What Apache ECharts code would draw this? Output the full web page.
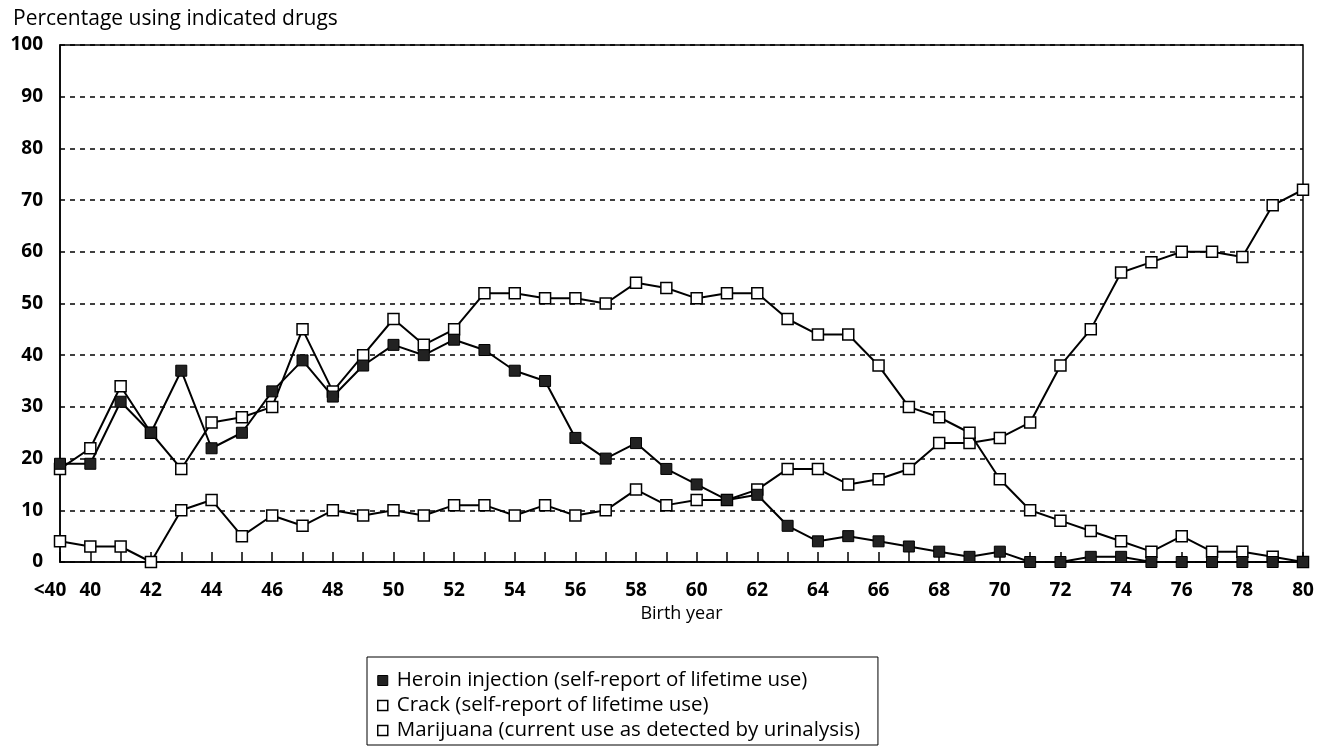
<!DOCTYPE html>
<html lang="en">
<head>
    <meta charset="UTF-8">
    <title>Drug use by birth year</title>
    <script type="text/javascript" src="https://cdn.jsdelivr.net/npm/echarts@6/dist/echarts.min.js"></script>
</head>
<body style="margin:0;background:#fff;">
<div id="myChart" style="width:1324px;height:750px;"></div>
<script type="text/javascript">
    // 出生年份（横轴）
    var years = ['<40', '40', '41', '42', '43', '44', '45', '46', '47', '48', '49',
        '50', '51', '52', '53', '54', '55', '56', '57', '58', '59',
        '60', '61', '62', '63', '64', '65', '66', '67', '68', '69',
        '70', '71', '72', '73', '74', '75', '76', '77', '78', '79', '80'];
    var heroin = [19, 19, 31, 25, 37, 22, 25, 33, 39, 32, 38,
        42, 40, 43, 41, 37, 35, 24, 20, 23, 18,
        15, 12, 13, 7, 4, 5, 4, 3, 2, 1,
        2, 0, 0, 1, 1, 0, 0, 0, 0, 0, 0];
    var crack = [18, 22, 34, 25, 18, 27, 28, 30, 45, 33, 40,
        47, 42, 45, 52, 52, 51, 51, 50, 54, 53,
        51, 52, 52, 47, 44, 44, 38, 30, 28, 25,
        16, 10, 8, 6, 4, 2, 5, 2, 2, 1, 0];
    var marijuana = [4, 3, 3, 0, 10, 12, 5, 9, 7, 10, 9,
        10, 9, 11, 11, 9, 11, 9, 10, 14, 11,
        12, 12, 14, 18, 18, 15, 16, 18, 23, 23,
        24, 27, 38, 45, 56, 58, 60, 60, 59, 69, 72];
    var names = ['Heroin injection (self-report of lifetime use)',
        'Crack (self-report of lifetime use)',
        'Marijuana (current use as detected by urinalysis)'];

    var font = 'Open Sans';
    var myChart = echarts.init(document.getElementById('myChart'));
    var openBox = {color: '#fff', borderColor: '#000', borderWidth: 1.5};
    var option = {
        animation: false,
        backgroundColor: '#fff',
        title: {
            text: 'Percentage using indicated drugs',
            left: 8,
            top: 4,
            textStyle: {fontFamily: font, fontSize: 21, fontWeight: 'normal', color: '#000'}
        },
        legend: {
            orient: 'vertical',
            left: 367,
            top: 657,
            padding: [13, 18, 4, 10],
            itemGap: 4,
            itemWidth: 10,
            itemHeight: 10,
            borderColor: '#000',
            borderWidth: 1,
            backgroundColor: '#fff',
            textStyle: {fontFamily: font, fontSize: 20.5, lineHeight: 21, color: '#000', padding: [0, 0, 0, 4]},
            data: [
                {name: names[0], icon: 'rect', itemStyle: {color: '#222', borderColor: '#000', borderWidth: 1}},
                {name: names[1], icon: 'rect', itemStyle: openBox},
                {name: names[2], icon: 'rect', itemStyle: openBox}
            ]
        },
        grid: {
            show: true,
            left: 60,
            right: 21,
            top: 45,
            bottom: 188,
            borderColor: '#000',
            borderWidth: 1.5
        },
        xAxis: {
            type: 'category',
            data: years,
            boundaryGap: false,
            name: 'Birth year',
            nameLocation: 'middle',
            nameGap: 40,
            nameTextStyle: {fontFamily: font, fontSize: 18, color: '#000'},
            axisLine: {lineStyle: {color: '#000', width: 1.5}},
            axisTick: {inside: true, length: 10, interval: 0, lineStyle: {color: '#000', width: 1.5}},
            axisLabel: {
                interval: function (i) { return i === 0 || i % 2 === 1; },
                formatter: function (v, i) { return i === 0 ? '{first|' + v + '}' : v; },
                rich: {
                    first: {fontFamily: font, fontSize: 19, fontWeight: 'bold', color: '#000', padding: [0, 20, 0, 0]}
                },
                margin: 19,
                fontFamily: font,
                fontSize: 19,
                fontWeight: 'bold',
                color: '#000'
            },
            splitLine: {show: false}
        },
        yAxis: {
            type: 'value',
            min: 0,
            max: 100,
            interval: 10,
            axisLine: {show: true, lineStyle: {color: '#000', width: 1.5}},
            axisTick: {show: false},
            axisLabel: {margin: 17, fontFamily: font, fontSize: 19, fontWeight: 'bold', color: '#000'},
            splitLine: {lineStyle: {color: '#000', width: 1.5, type: [5, 5]}}
        },
        series: [
            {
                name: names[0],
                type: 'line',
                z: 5,
                data: heroin,
                symbol: 'rect',
                symbolSize: 11,
                lineStyle: {color: '#000', width: 2},
                itemStyle: {color: '#222', borderColor: '#000', borderWidth: 1}
            },
            {
                name: names[1],
                type: 'line',
                z: 4,
                data: crack,
                symbol: 'rect',
                symbolSize: 11,
                lineStyle: {color: '#000', width: 2},
                itemStyle: openBox
            },
            {
                name: names[2],
                type: 'line',
                z: 3,
                data: marijuana,
                symbol: 'rect',
                symbolSize: 11,
                lineStyle: {color: '#000', width: 2},
                itemStyle: openBox
            }
        ]
    };
    myChart.setOption(option);
</script>
</body>
</html>
